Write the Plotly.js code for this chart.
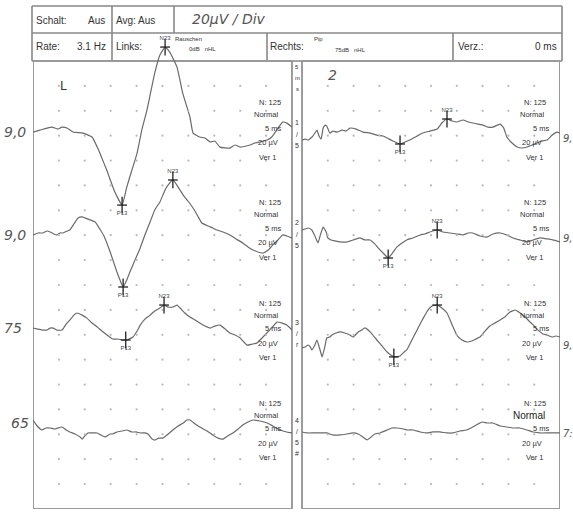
<!DOCTYPE html>
<html><head><meta charset="utf-8">
<script src="https://cdn.plot.ly/plotly-3.0.1.min.js"></script>
<style>html,body{margin:0;padding:0;background:#fff}#c{width:573px;height:513px}</style>
</head><body><div id="c"></div>
<script>
// ---- data: time (ms) and amplitude (µV, relative to channel baseline) ----
const L1_t = [0,1.35,2.7,3.67,4.83,5.6,6.56,7.72,9.65,11.4,12.4,12.9,14.3,15.8,17.2,18.1,19.1,20.1,21.0,22.0,22.8,23.5,24.5,25.5,26.4,27.8,28.9,30.3,30.9,32.2,33.2,34.2,35.1,36.1,38.0,39.0,40.0,41.9,42.8,43.8,45.2,46.1,47.3,48.2,49.0,50.0];
const L1_v = [0,1.6,3.2,4.0,2.4,4.0,3.2,0,-0.8,-4.0,-12.1,-16.9,-31.3,-48.2,-58.7,-44.2,-30.5,-16.9,1.6,17.7,33.7,47.4,61.9,68.3,64.3,52.2,31.3,12.1,-0.8,-4.0,-4.8,-8.0,-7.2,-12.1,-12.9,-10.4,-12.1,-10.4,-8.8,-8.0,-6.4,-4.0,3.2,8.0,7.2,4.0];
const L2_t = [0,1.0,1.9,2.7,3.3,4.05,4.6,5.2,5.8,6.6,7.1,7.9,8.7,9.5,10.0,11.0,12.0,12.9,13.7,14.9,16.2,16.8,17.4,18.1,18.7,19.7,20.7,21.6,22.6,23.5,24.5,25.5,26.1,27.0,28.0,29.0,29.9,30.9,31.8,32.6,33.8,34.7,35.5,36.7,38.0,39.2,40.5,41.5,42.5,43.4,44.4,45.4,46.3,47.3,48.2,49.0,50.0];
const L2_v = [0,1.6,1.6,3.2,2.4,0.8,0,1.6,1.6,3.2,4.0,8.8,13.7,14.5,13.7,12.1,10.4,4.8,-0.8,-13.7,-29.7,-36.2,-41.8,-36.2,-29.7,-20.1,-10.4,0,10.4,20.1,26.5,36.2,40.2,44.2,38.6,32.1,27.3,21.7,15.3,9.6,7.2,5.6,4.0,2.4,0,-3.2,-6.4,-9.6,-12.1,-13.7,-14.5,-12.1,-8.0,-4.0,0,-0.8,-2.4];
const L3_t = [0,1.0,1.9,2.7,3.3,3.9,4.6,5.6,6.4,7.1,7.9,8.5,9.5,10.4,11.4,12.4,13.3,14.3,15.4,16.4,17.2,18.1,19.3,20.1,20.7,21.6,22.6,23.5,24.5,25.3,26.1,27.0,27.8,28.4,29.3,30.3,31.3,32.2,33.2,34.2,35.1,36.1,37.1,38.0,39.0,40.0,40.7,41.3,42.3,43.2,43.8,44.4,45.7,47.1,48.1,49.0,50.0];
const L3_v = [0,-0.8,-1.6,-1.6,0,0,-1.6,-1.6,3.2,6.4,10.4,12.1,10.4,8.0,4.0,0.8,-2.4,-5.6,-8.8,-8.8,-9.6,-9.6,-7.2,-2.4,2.4,7.2,10.4,13.7,16.1,18.5,16.9,16.9,18.5,16.1,12.1,8.8,6.4,4.0,1.6,0,1.6,2.4,-0.8,-4.0,-5.6,-8.0,-11.2,-13.7,-12.9,-12.1,-9.6,-7.2,-1.6,4.8,4.0,2.4,-1.6];
const L4_t = [0,0.8,1.7,2.5,3.3,4.2,4.8,5.6,6.4,7.1,8.1,9.1,9.5,10.0,10.6,11.4,12.4,13.1,13.9,14.9,15.4,16.2,17.2,18.1,19.1,19.9,20.7,21.6,22.2,23.0,23.5,24.3,25.1,26.1,27.0,28.0,29.0,29.7,30.3,31.3,32.2,33.6,34.7,35.7,36.7,37.6,38.6,39.6,40.5,41.5,42.5,43.8,45.2,46.3,47.7,49.0,50.0];
const L4_v = [2.4,-2.4,-5.6,-4.0,-4.0,-4.8,-4.0,-3.2,-5.6,-7.2,-8.8,-11.2,-12.9,-10.4,-8.0,-8.0,-8.0,-9.6,-11.2,-8.8,-8.8,-7.2,-6.4,-5.6,-7.2,-7.2,-8.0,-8.0,-8.8,-12.9,-13.7,-12.1,-12.1,-8.8,-5.6,-2.4,0,2.4,2.4,-0.8,-3.2,-6.4,-9.6,-12.1,-12.9,-10.4,-8.0,-4.8,-1.6,0.8,2.4,1.6,0,-2.4,-5.6,-7.2,-8.0];

const R1_t = [0,0.6,1.2,1.7,2.1,2.5,2.9,3.3,3.7,4.1,4.5,4.8,5.4,6.0,6.8,7.8,8.5,9.3,10.5,11.8,13.2,14.5,15.7,16.5,17.6,19.0,20.0,20.9,22.3,23.4,24.8,26.2,27.1,28.1,29.1,30.0,31.2,32.2,33.1,34.1,35.1,36.0,37.0,38.4,39.1,39.7,40.7,41.7,42.6,43.6,44.6,45.5,46.5,47.5,48.5,49.4,50.0];
const R1_v = [-1.6,-0.8,-1.6,0,1.6,4.0,6.4,1.6,-0.8,8.0,10.4,9.6,4.0,5.6,4.8,6.4,5.6,8.0,7.2,4.8,4.0,2.4,1.6,0,-2.4,-4.8,-3.2,-1.6,1.6,4.0,5.6,7.2,12.1,15.3,13.7,12.9,14.5,12.9,12.1,11.2,10.4,8.8,8.8,11.2,8.0,0.8,-4.0,-7.2,-8.0,-7.2,-5.6,-4.0,-2.4,-1.6,2.4,4.8,4.0];
const R2_t = [0,0.6,1.2,1.9,2.5,3.1,3.5,4.1,4.7,5.0,5.6,6.4,7.4,8.7,9.9,11.2,12.2,13.2,14.1,15.1,15.9,16.7,17.4,18.4,19.4,20.3,21.5,22.9,23.8,24.8,26.2,27.3,28.7,30.0,31.2,32.2,33.1,34.5,35.9,37.0,38.4,39.7,40.9,42.2,43.6,44.8,46.1,47.5,48.6,50.0];
const R2_v = [5.6,6.4,7.2,5.6,0.8,-4.8,0.8,8.0,4.0,-0.8,-2.4,-3.2,-4.0,-4.0,-2.4,-0.8,-2.4,-2.4,-5.6,-10.4,-13.7,-16.9,-13.7,-8.0,-4.8,-2.4,-0.8,1.6,2.4,4.0,5.6,4.0,3.2,2.4,1.6,3.2,3.2,0.8,0,2.4,3.2,1.6,-0.8,-2.4,-4.0,-2.4,-0.8,-1.6,-2.4,-4.0];
const R3_t = [0,0.6,1.2,1.6,1.9,2.5,2.9,3.5,3.9,4.5,4.8,5.4,5.8,6.6,7.4,8.3,9.3,9.9,10.9,11.6,12.2,13.2,14.5,15.5,16.5,17.2,18.0,19.0,19.8,20.3,21.3,22.3,23.3,24.4,25.2,26.2,27.1,28.1,29.1,30.0,31.0,32.0,32.9,33.7,34.5,35.5,36.4,37.4,38.4,39.3,40.3,41.3,42.0,42.8,43.8,44.8,45.7,46.7,47.5,48.5,49.2,50.0];
const R3_v = [-0.8,0,1.6,0,-2.4,1.6,5.6,-2.4,-8.0,1.6,7.2,8.0,9.6,11.2,12.1,11.2,9.6,8.0,12.1,13.7,15.3,12.1,5.6,0.8,-4.0,-6.4,-8.0,-7.2,-4.0,-2.4,5.6,13.7,21.7,29.7,32.9,33.7,31.3,27.3,17.7,9.6,5.6,4.0,4.8,6.4,8.0,12.9,16.9,19.3,21.7,24.1,28.1,29.7,28.1,25.7,21.7,17.7,13.7,10.4,9.6,8.0,8.8,8.0];
const R4_t = [0,1.0,2.1,3.5,4.8,6.0,7.4,8.7,9.9,10.9,11.8,12.6,13.4,14.1,15.1,16.5,17.4,18.4,19.6,20.5,21.5,22.9,24.2,25.4,26.7,28.1,29.3,30.6,31.9,33.1,34.1,34.9,35.9,37.0,38.4,39.7,40.9,42.2,43.6,44.8,46.1,47.5,48.6,50.0];
const R4_v = [0.8,0,0,0,0,-1.6,-1.6,-0.8,0,-0.8,-3.2,-5.6,-3.2,-0.8,0,2.4,4.0,4.0,3.2,2.4,2.4,0.8,0,0.8,0.8,0,0,1.6,2.4,4.8,7.2,8.8,8.0,8.0,5.6,4.8,4.0,4.0,2.4,0.8,0,0,0,0];

// channel baselines (µV above bottom of the 18-division screen)
const leftBase  = [302.9, 220.2, 145.4, 69.1];
const rightBase = [298.1, 218.6, 130.2, 61.1];

// peak markers (P13 / N23) for channels 1-3
const L_P13_t = [17.2, 17.4, 17.9], L_P13_v = [-58.7, -41.8, -9.6];
const L_N23_t = [25.5, 27.0, 25.3], L_N23_v = [68.3, 44.2, 18.5];
const R_P13_t = [19.0, 16.7, 17.8], R_P13_v = [-4.8, -16.9, -8.0];
const R_N23_t = [28.1, 26.2, 26.2], R_N23_v = [15.3, 5.6, 33.7];

// per-channel info labels
const chInfo = ['N: 125', 'Normal', '5 ms', '20 µV', 'Ver 1'];
const leftNotes  = ['9,0', '9,0', '75', '65'];
const rightNotes = ['9,', '9,', '9,', '7:'];
const chStrip = [['1','/','5'], ['2','/','5'], ['3','/','r'], ['4','/','5','#']];

// header texts
const hdr = {schalt:'Schalt:', aus:'Aus', avg:'Avg: Aus', hand:'20µV / Div', rate:'Rate:', hz:'3.1 Hz',
  links:'Links:', rausch:'Rauschen', ldb:'0dB   nHL', rechts:'Rechts:', pip:'Pip', rdb:'75dB   nHL', verz:'Verz.:', ms:'0 ms'};

// ---- build ----
const W = 573, H = 513;
const X = px => px / W, Y = py => 1 - py / H;
const TC = '#6a6a6a', TXT = '#333', FR = '#9a9a9a';
const FONT = 'Liberation Sans, Arial, sans-serif';
const HAND = 'DejaVu Sans, sans-serif';

const traces = [];
function chan(t, v, base, xa, ya) {
  traces.push({x: t, y: v.map(a => a + base), xaxis: xa, yaxis: ya, mode: 'lines',
    line: {color: TC, width: 1.2, shape: 'spline', smoothing: 0.4}, hoverinfo: 'skip'});
}
const L = [[L1_t,L1_v],[L2_t,L2_v],[L3_t,L3_v],[L4_t,L4_v]];
const R = [[R1_t,R1_v],[R2_t,R2_v],[R3_t,R3_v],[R4_t,R4_v]];
L.forEach((d,i) => chan(d[0], d[1], leftBase[i], 'x', 'y'));
R.forEach((d,i) => chan(d[0], d[1], rightBase[i], 'x2', 'y2'));

// dot grid
const gx = [], gy = [];
for (let i = 1; i <= 9; i++) for (let j = 1; j <= 17; j++) { gx.push(i * 5); gy.push(j * 20); }
[['x','y'],['x2','y2']].forEach(([xa,ya]) => traces.push({x: gx, y: gy, xaxis: xa, yaxis: ya, mode: 'markers',
  marker: {color: '#b8b8b8', size: 2.2}, hoverinfo: 'skip'}));

function peaks(t, v, base, name, xa, ya, below) {
  const y = v.map((a,i) => a + base[i]);
  traces.push({x: t, y: y, xaxis: xa, yaxis: ya, mode: 'markers', cliponaxis: false,
    marker: {symbol: 'line-ns', size: 12, line: {color: '#222', width: 1.3}}, hoverinfo: 'skip'});
  traces.push({x: t, y: y, xaxis: xa, yaxis: ya, mode: 'markers+text', cliponaxis: false,
    marker: {symbol: 'line-ew', size: 7, line: {color: '#222', width: 1.3}},
    text: t.map(() => name), textposition: below ? 'bottom center' : 'top center',
    textfont: {size: 6, color: '#444', family: FONT}, hoverinfo: 'skip'});
}
peaks(L_P13_t, L_P13_v, leftBase, 'P13', 'x', 'y', true);
peaks(L_N23_t, L_N23_v, leftBase, 'N23', 'x', 'y', false);
peaks(R_P13_t, R_P13_v, rightBase, 'P13', 'x2', 'y2', true);
peaks(R_N23_t, R_N23_v, rightBase, 'N23', 'x2', 'y2', false);

// layout
const yTop = 360 + (61 - 40) / 24.89 * 20;
const ax = (d) => ({domain: d, showticklabels: false, showgrid: false, zeroline: false, showline: false, ticks: '', fixedrange: true});
const layout = {
  width: W, height: H, margin: {l:0, r:0, t:0, b:0}, paper_bgcolor: '#fff', plot_bgcolor: 'rgba(0,0,0,0)', showlegend: false,
  xaxis: Object.assign(ax([X(33), X(292)]), {range: [0, 50]}),
  yaxis: Object.assign(ax([Y(509), Y(40)]), {range: [0, yTop]}),
  xaxis2: Object.assign(ax([X(302), X(560)]), {range: [0, 50]}),
  yaxis2: Object.assign(ax([Y(509), Y(40)]), {range: [0, yTop]}),
  shapes: [], annotations: []
};
const S = layout.shapes, A = layout.annotations;
// panel frames
S.push({type:'rect', xref:'x', yref:'y', x0:0, x1:50, y0:0, y1:360, line:{color:FR, width:2}, layer:'below'});
S.push({type:'rect', xref:'x2', yref:'y2', x0:0, x1:50, y0:0, y1:360, line:{color:FR, width:2}, layer:'below'});
// header frame
const pl = (x0,y0,x1,y1,w) => S.push({type:'line', xref:'paper', yref:'paper', x0:X(x0), x1:X(x1), y0:Y(y0), y1:Y(y1), line:{color:'#888', width:w||1.6}, layer:'below'});
pl(32,6,562,6); pl(32,33,562,33); pl(32,61,562,61); pl(32,6,32,61); pl(562,6,562,61);
pl(112,6,112,61); pl(174,6,174,33); pl(267,33,267,61); pl(453,33,453,61);

function txt(s, x, y, anchor, size, opts) {
  A.push(Object.assign({text: s, xref:'paper', yref:'paper', x: X(x), y: Y(y), xanchor: anchor, yanchor:'middle',
    showarrow:false, font:{family: FONT, size: size, color: TXT}}, opts || {}));
}
const handFont = (sz) => ({font:{family:HAND, size:sz, color:'#555', style:'italic'}});
txt(hdr.schalt, 34, 20, 'left', 10); txt(hdr.aus, 107, 20, 'right', 10); txt(hdr.avg, 114, 20, 'left', 10);
txt(hdr.hand, 190, 19, 'left', 14, handFont(14));
txt(hdr.rate, 34, 47, 'left', 10); txt(hdr.hz, 108, 47, 'right', 10); txt(hdr.links, 114, 47, 'left', 10);
txt(hdr.rausch, 173, 39, 'left', 6); txt(hdr.ldb, 187, 49, 'left', 6);
txt(hdr.rechts, 268, 47, 'left', 10); txt(hdr.pip, 312, 39, 'left', 6); txt(hdr.rdb, 333, 50, 'left', 6);
txt(hdr.verz, 456, 47, 'left', 10); txt(hdr.ms, 559, 47, 'right', 10);

// channel info labels
const infoDy = [0, 12, 25, 40, 54];
const infoRx = [[283, 281, 284, 280, 279], [548, 547, 552, 544, 546]];
for (let k = 0; k < 4; k++) {
  chInfo.forEach((s, j) => {
    txt(s, infoRx[0][j], 103 + 100 * k + infoDy[j], 'right', 7.5);
    const big = (k === 3 && j === 1);
    txt(s, infoRx[1][j], 103 + 100 * k + infoDy[j], 'right', big ? 10 : 7.5, big ? {font:{family:FONT, size:10, color:'#222'}} : {});
  });
}
// handwritten notes
const leftNoteY = [132, 235, 328, 423], rightNoteY = [138, 238, 345, 433];
leftNotes.forEach((s,i) => txt(s, i < 3 ? 2 : 9, leftNoteY[i], 'left', 14, handFont(14)));
rightNotes.forEach((s,i) => txt(s, 561, rightNoteY[i], 'left', 10, handFont(10)));
txt('L', 58, 86, 'left', 12, {font:{family:HAND, size:12, color:'#333'}});
txt('2', 326, 75, 'left', 14, handFont(14));
// strip between panels
['5','m','s'].forEach((s,i) => txt(s, 297, 67 + 11 * i, 'center', 6));
const stripY = [123, 223, 322, 420];
chStrip.forEach((arr, k) => arr.forEach((s, i) => txt(s, 297, stripY[k] + 11 * i, 'center', 7)));
// strip lines
pl(292,61,292,509,1.6); pl(302,61,302,509,1.6);

Plotly.newPlot('c', traces, layout, {staticPlot: true, displayModeBar: false});
</script></body></html>
